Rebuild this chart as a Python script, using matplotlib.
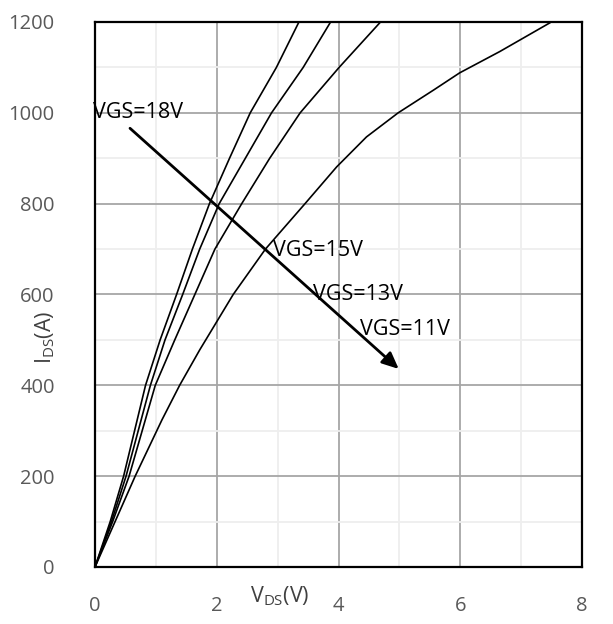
import matplotlib
matplotlib.use("Agg")
import matplotlib.pyplot as plt
from matplotlib.ticker import MultipleLocator

plt.rcParams['font.family'] = ['Open Sans', 'DejaVu Sans']

# Data
I_18 = [0, 100, 200, 400, 500, 600, 700, 800, 900, 1000, 1100, 1200]
V_18 = [0, 0.25, 0.47, 0.83, 1.07, 1.34, 1.60, 1.88, 2.21, 2.55, 2.98, 3.35]

I_15 = [0, 100, 200, 400, 500, 600, 700, 800, 900, 1000, 1100, 1200]
V_15 = [0, 0.27, 0.51, 0.91, 1.15, 1.44, 1.72, 2.04, 2.47, 2.90, 3.42, 3.87]

I_13 = [0, 100, 200, 400, 500, 600, 700, 800, 900, 1000, 1100, 1200]
V_13 = [0, 0.29, 0.56, 0.99, 1.31, 1.64, 1.97, 2.41, 2.87, 3.37, 4.01, 4.69]

I_11 = [0, 100, 200, 324, 400, 478, 600, 700, 800, 881, 947, 1000, 1050, 1088, 1135, 1198]
V_11 = [0, 0.33, 0.66, 1.10, 1.39, 1.72, 2.27, 2.80, 3.45, 3.97, 4.46, 4.98, 5.56, 5.99, 6.65, 7.47]

labels = ["VGS=18V", "VGS=15V", "VGS=13V", "VGS=11V"]
label_pos = [(-0.03, 1000), (2.93, 696), (3.58, 599), (4.35, 522)]
arrow_start = (0.575, 966)
arrow_end = (4.99, 436)

x_ticks = [0, 2, 4, 6, 8]
y_ticks = [0, 200, 400, 600, 800, 1000, 1200]

W, H = 613, 624
fig = plt.figure(figsize=(W / 100, H / 100), dpi=100)
ax = fig.add_axes([95 / W, (H - 567) / H, (582 - 95) / W, (567 - 22) / H])

for V, I in [(V_18, I_18), (V_15, I_15), (V_13, I_13), (V_11, I_11)]:
    ax.plot(V, I, color='black', lw=1.2, zorder=3, solid_joinstyle='round')

ax.set_xlim(0, 8)
ax.set_ylim(0, 1200)
ax.set_xticks(x_ticks)
ax.set_yticks(y_ticks)
ax.xaxis.set_minor_locator(MultipleLocator(1))
ax.yaxis.set_minor_locator(MultipleLocator(100))
ax.grid(which='major', color='#a6a6a6', lw=1.3, zorder=1)
ax.grid(which='minor', color='#eeeeee', lw=1.3, zorder=0)
ax.set_axisbelow(True)
ax.tick_params(which='both', length=0)
ax.tick_params(axis='y', pad=29, labelsize=14.5, labelcolor='#595959')
ax.tick_params(axis='x', pad=21, labelsize=14.5, labelcolor='#595959')
for s in ax.spines.values():
    s.set_color('black')
    s.set_linewidth(1.6)
    s.set_zorder(4)

for t, (x, y) in zip(labels, label_pos):
    ax.text(x, y, t, fontsize=15.5, color='black', ha='left', va='center', zorder=5)

ax.annotate('', xy=arrow_end, xytext=arrow_start,
            arrowprops=dict(arrowstyle='-|>,head_length=1.0,head_width=0.45',
                            color='black', lw=2.0, shrinkA=0, shrinkB=0), zorder=5)

fig.text(280 / W, 1 - 596 / H, r'V$_{\mathregular{DS}}$(V)', fontsize=15.5, color='#404040',
         ha='center', va='center')
fig.text(45 / W, 1 - 337 / H, r'I$_{\mathregular{DS}}$(A)', fontsize=15.5, color='#404040',
         ha='center', va='center', rotation=90)

fig.savefig('out.png', dpi=100, facecolor='white')
